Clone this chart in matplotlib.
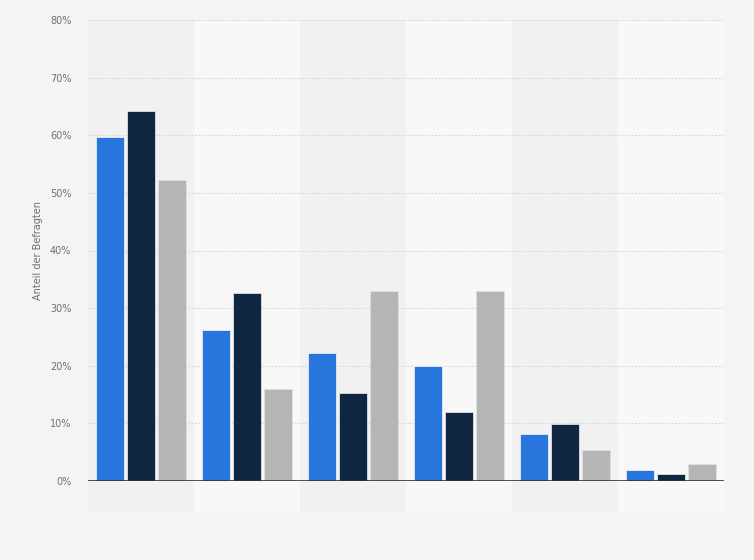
import matplotlib
matplotlib.use("Agg")
import matplotlib.pyplot as plt
import numpy as np

categories = ["1", "2", "3", "4", "5", "6"]
series_a = [59.7, 26.2, 22.2, 20.0, 8.2, 1.9]
series_b = [64.2, 32.6, 15.3, 11.9, 9.9, 1.3]
series_c = [52.3, 16.0, 33.0, 33.0, 5.3, 2.9]
yticks = [0, 10, 20, 30, 40, 50, 60, 70, 80]
ytick_labels = ["0%", "10%", "20%", "30%", "40%", "50%", "60%", "70%", "80%"]

colors = ["#2876dd", "#0f2640", "#b5b5b5"]

fig = plt.figure(figsize=(7.54, 5.6), dpi=100)
fig.patch.set_facecolor("#f4f4f4")
ax = fig.add_axes([88/754, 1-481/560, (724-88)/754, (481-20)/560])
ax.set_facecolor("none")

n = len(categories)
x = np.arange(n)
ax.set_xlim(-0.5, n-0.5)
ax.set_ylim(0, 80)

# alternating bands
ext = 31/461
for i in range(n):
    col = "#f1f1f1" if i % 2 == 0 else "#f8f8f8"
    ax.axvspan(i-0.5, i+0.5, ymin=-ext, ymax=1.0, color=col, zorder=0, clip_on=False, lw=0)

for yv in yticks[1:]:
    ax.axhline(yv, color="#d6d6d6", lw=0.8, ls=(0, (1.5, 1.5)), zorder=1)

w = 0.262
step = 0.29
for k, s in enumerate([series_a, series_b, series_c]):
    ax.bar(x + (k-1)*step, s, width=w, color=colors[k], edgecolor="#e8eef5" if k == 0 else "#dde0e4",
           linewidth=0.6, zorder=3)

ax.axhline(0, color="#333333", lw=1.2, zorder=4)

ax.set_yticks(yticks)
ax.set_yticklabels(ytick_labels, fontsize=7, color="#707070")
ax.set_xticks([])
ax.tick_params(axis="y", length=0, pad=12)
for sp in ax.spines.values():
    sp.set_visible(False)

ax.set_ylabel("Anteil der Befragten", fontsize=7, color="#707070", labelpad=5)

fig.savefig("out.png", dpi=100, facecolor=fig.get_facecolor())
